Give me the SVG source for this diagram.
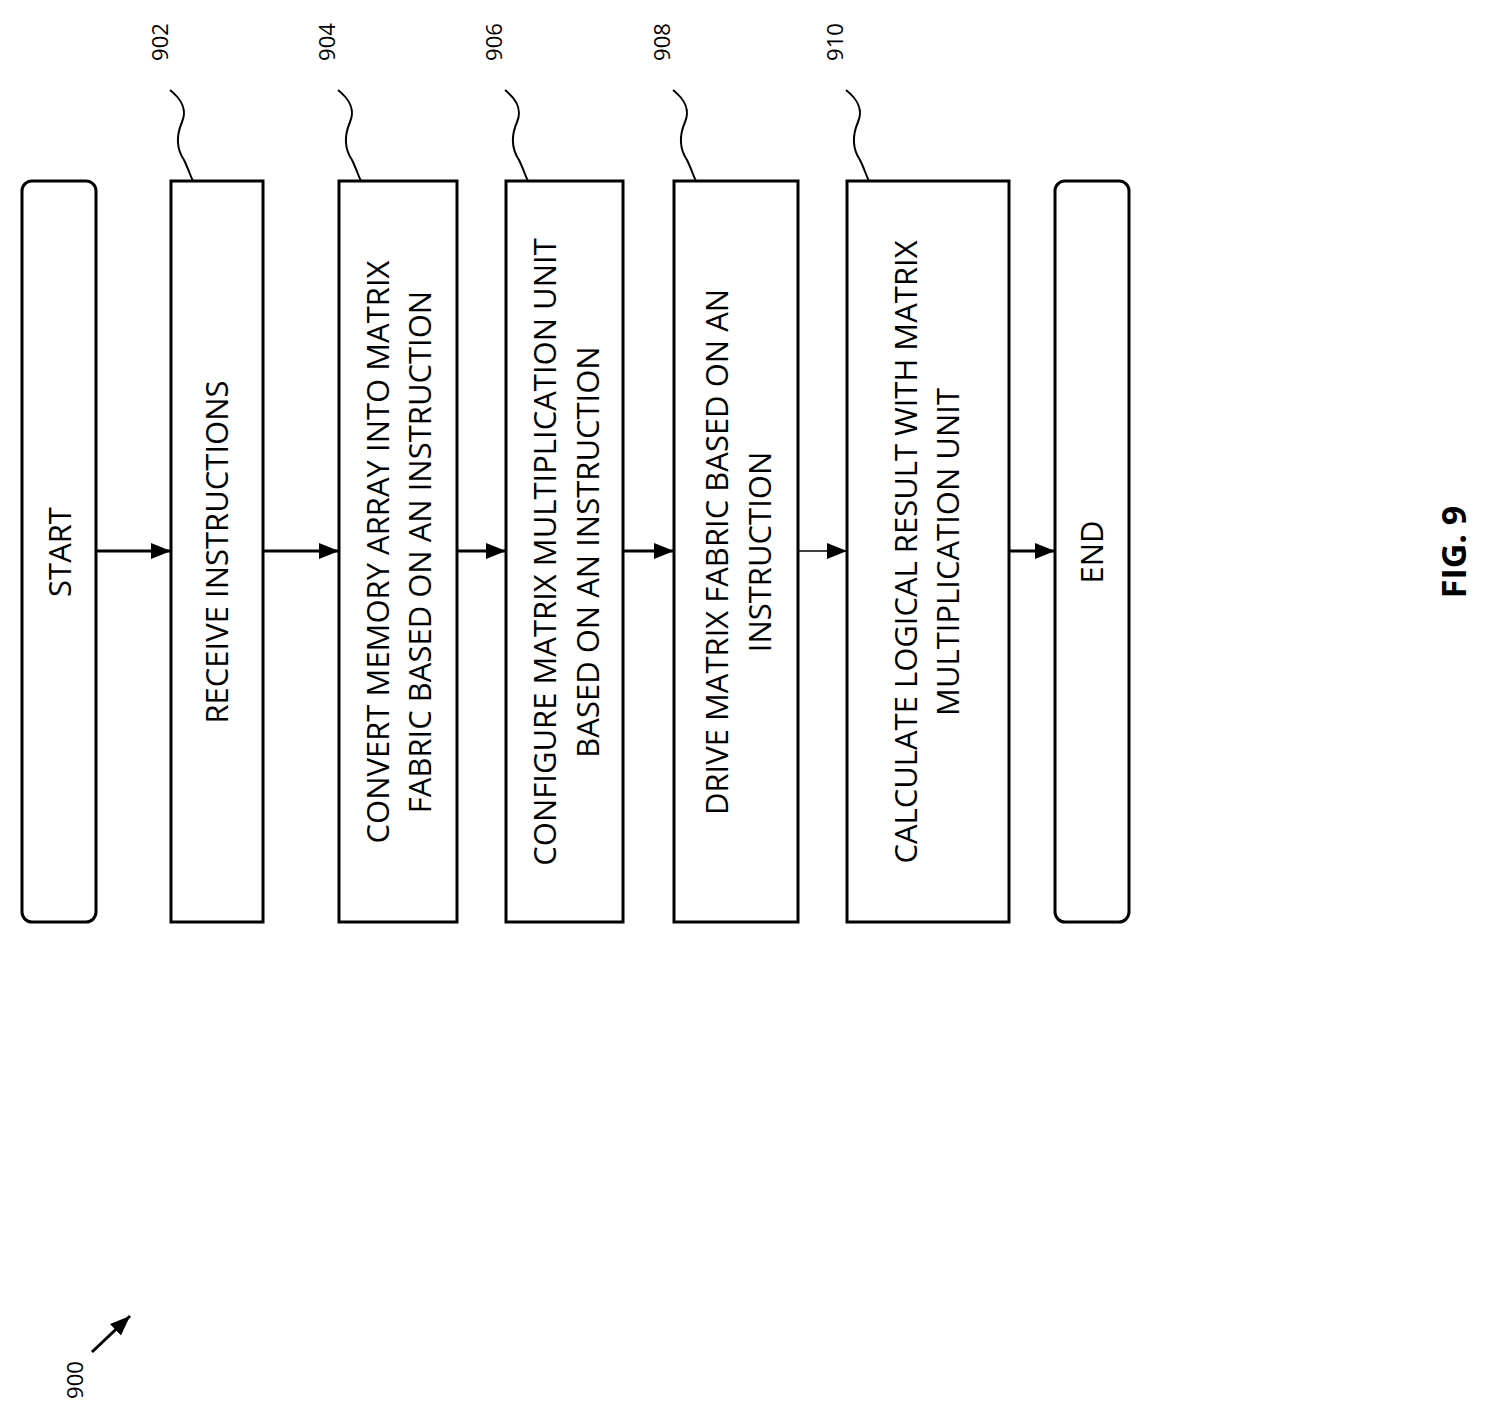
<svg xmlns="http://www.w3.org/2000/svg" width="1487" height="1423" viewBox="0 0 1487 1423">
<defs>
<style>
.box{fill:#fff;stroke:#000;stroke-width:3}
.t{font-family:"Open Sans","Liberation Sans",sans-serif;font-size:31px;fill:#000;text-anchor:middle}
.ref{font-family:"Open Sans","Liberation Sans",sans-serif;font-size:22px;fill:#000;text-anchor:middle}
.c{stroke:#000;stroke-width:3;fill:none}
.sq{stroke:#000;stroke-width:2;fill:none}
</style>
<marker id="ah2" viewBox="0 0 10 10" refX="10" refY="5" markerWidth="20" markerHeight="20" markerUnits="userSpaceOnUse" orient="auto"><path d="M0,1L10,5L0,9z"/></marker>
<path id="squig" d="M0,0 C10,8 18,18 12,32 C6,46 6,58 14,70 C18,78 20,85 23,91"/>
</defs>
<g id="start"><rect class="box" x="22" y="181" width="74" height="741" rx="10"/><text class="t" transform="translate(71,552) rotate(-90)">START</text></g>
<g id="n902"><rect class="box" x="171" y="181" width="92" height="741"/><text class="t" transform="translate(228,552) rotate(-90)">RECEIVE INSTRUCTIONS</text>
<text class="ref" transform="translate(168,42) rotate(-90)">902</text><use href="#squig" class="sq" transform="translate(170,90)"/></g>
<g id="n904"><rect class="box" x="339" y="181" width="118" height="741"/><text class="t" transform="translate(389,552) rotate(-90)">CONVERT MEMORY ARRAY INTO MATRIX</text><text class="t" transform="translate(431,552) rotate(-90)">FABRIC BASED ON AN INSTRUCTION</text>
<text class="ref" transform="translate(335,42) rotate(-90)">904</text><use href="#squig" class="sq" transform="translate(338,90)"/></g>
<g id="n906"><rect class="box" x="506" y="181" width="117" height="741"/><text class="t" transform="translate(556,552) rotate(-90)">CONFIGURE MATRIX MULTIPLICATION UNIT</text><text class="t" transform="translate(599,552) rotate(-90)">BASED ON AN INSTRUCTION</text>
<text class="ref" transform="translate(502,42) rotate(-90)">906</text><use href="#squig" class="sq" transform="translate(505,90)"/></g>
<g id="n908"><rect class="box" x="674" y="181" width="124" height="741"/><text class="t" transform="translate(728,552) rotate(-90)">DRIVE MATRIX FABRIC BASED ON AN</text><text class="t" transform="translate(771,552) rotate(-90)">INSTRUCTION</text>
<text class="ref" transform="translate(670,42) rotate(-90)">908</text><use href="#squig" class="sq" transform="translate(673,90)"/></g>
<g id="n910"><rect class="box" x="847" y="181" width="162" height="741"/><text class="t" transform="translate(917,552) rotate(-90)">CALCULATE LOGICAL RESULT WITH MATRIX</text><text class="t" transform="translate(959,552) rotate(-90)">MULTIPLICATION UNIT</text>
<text class="ref" transform="translate(843,42) rotate(-90)">910</text><use href="#squig" class="sq" transform="translate(846,90)"/></g>
<g id="end"><rect class="box" x="1055" y="181" width="74" height="741" rx="10"/><text class="t" transform="translate(1103,552) rotate(-90)">END</text></g>
<g id="connectors">
<line class="c" x1="96" y1="551" x2="171" y2="551" marker-end="url(#ah2)"/>
<line class="c" x1="263" y1="551" x2="339" y2="551" marker-end="url(#ah2)"/>
<line class="c" x1="457" y1="551" x2="506" y2="551" marker-end="url(#ah2)"/>
<line class="c" x1="623" y1="551" x2="674" y2="551" marker-end="url(#ah2)"/>
<line stroke="#000" stroke-width="1.5" x1="798" y1="551" x2="847" y2="551" marker-end="url(#ah2)"/>
<line class="c" x1="1009" y1="551" x2="1055" y2="551" marker-end="url(#ah2)"/>
</g>
<text transform="translate(1466,552) rotate(-90)" font-family="Open Sans,Liberation Sans,sans-serif" font-weight="bold" font-size="34" text-anchor="middle">FIG. 9</text>
<text class="ref" transform="translate(83,1380) rotate(-90)">900</text>
<line class="c" x1="92" y1="1352" x2="130" y2="1316" marker-end="url(#ah2)"/>
</svg>
